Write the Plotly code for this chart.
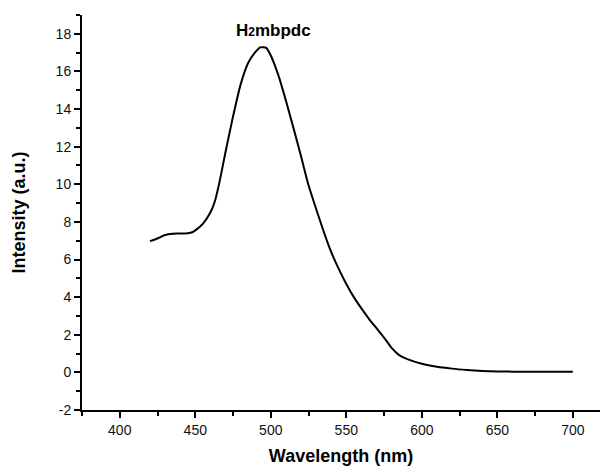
import plotly.graph_objects as go

wavelength = [420, 425, 430, 435, 440, 445, 448, 450, 455, 460, 463, 466, 470, 475, 480,
              485, 490, 493, 497, 500, 505, 510, 515, 520, 525, 530, 535, 540, 545, 550,
              555, 560, 565, 570, 575, 580, 585, 590, 600, 610, 620, 630, 640, 650, 660, 680, 700]
intensity = [6.98, 7.12, 7.30, 7.37, 7.38, 7.40, 7.45, 7.55, 7.90, 8.50, 9.10, 10.1, 11.7, 13.6, 15.3,
             16.45, 17.05, 17.28, 17.25, 16.85, 15.8, 14.45, 13.0, 11.5, 9.95, 8.7, 7.5, 6.4, 5.5, 4.7,
             4.0, 3.4, 2.85, 2.35, 1.85, 1.3, 0.92, 0.72, 0.46, 0.30, 0.20, 0.13, 0.08, 0.05, 0.04, 0.04, 0.04]

x_tickvals = [400, 450, 500, 550, 600, 650, 700]
y_tickvals = [-2, 0, 2, 4, 6, 8, 10, 12, 14, 16, 18]
y_ticktext = ["-2", "0", "2", "4", "6", "8", "10", "12", "14", "16", "18"]

label_text = 'H<span style="font-size:12px">2</span>mbpdc'
label_x = 501.5
label_y = 18.15

FONT = "Liberation Sans, Arial"

fig = go.Figure()
fig.add_trace(go.Scatter(x=wavelength, y=intensity, mode="lines",
                         line=dict(color="black", width=2, shape="spline", smoothing=0.5),
                         showlegend=False))

fig.add_annotation(x=label_x, y=label_y, text="<b>" + label_text + "</b>", showarrow=False,
                   font=dict(size=17, color="black", family=FONT))

axis_common = dict(showline=True, linecolor="black", linewidth=2, ticks="outside",
                   ticklen=6, tickwidth=1.5, tickcolor="black", showgrid=False, zeroline=False,
                   tickfont=dict(size=14, color="#111", family=FONT))

fig.update_xaxes(range=[375, 718], tickvals=x_tickvals,
                 minor=dict(dtick=25, tick0=375, ticks="outside", ticklen=4, tickcolor="black", tickwidth=1.5),
                 title=dict(text="<b>Wavelength (nm)</b>", font=dict(size=18, color="black", family=FONT), standoff=13),
                 **axis_common)
fig.update_yaxes(range=[-2, 19], tickvals=y_tickvals, ticktext=y_ticktext,
                 minor=dict(dtick=1, tick0=-1, ticks="outside", ticklen=4, tickcolor="black", tickwidth=1.5),
                 title=dict(text="<b>Intensity (a.u.)</b>", font=dict(size=18, color="black", family=FONT), standoff=25),
                 **axis_common)

fig.update_layout(width=600, height=469, margin=dict(l=82, r=0, t=15, b=59),
                  plot_bgcolor="white", paper_bgcolor="white")

fig.write_html("out.html")
